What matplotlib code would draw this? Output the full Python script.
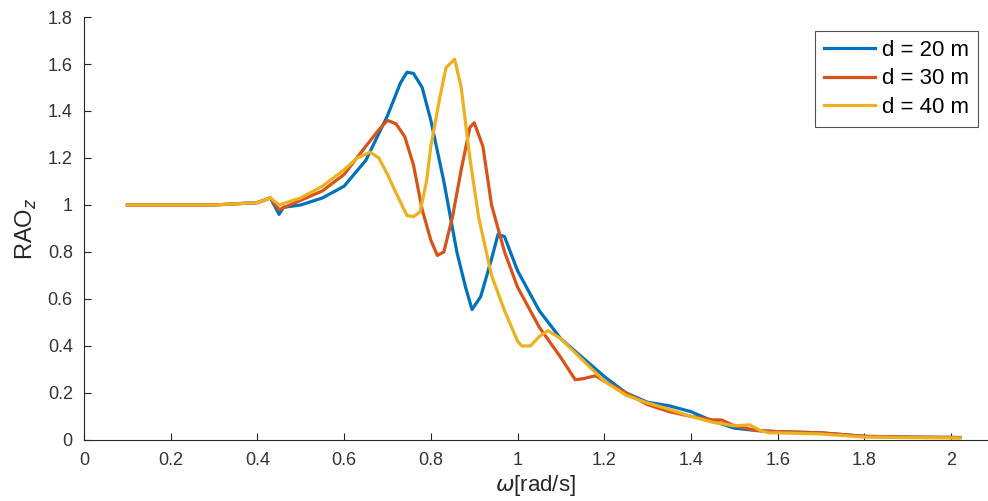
import matplotlib
matplotlib.use('Agg')
import matplotlib.pyplot as plt

# d = 20 m
w20 = [0.10, 0.20, 0.30, 0.40, 0.43, 0.45, 0.46, 0.50, 0.55, 0.60, 0.65, 0.70, 0.73, 0.745, 0.76,
       0.78, 0.80, 0.83, 0.86, 0.88, 0.895, 0.915, 0.94, 0.955, 0.97, 1.00, 1.05, 1.10, 1.15,
       1.20, 1.25, 1.30, 1.35, 1.40, 1.45, 1.50, 1.55, 1.60, 1.70, 1.80, 1.90, 2.02]
rao20 = [1.00, 1.00, 1.00, 1.01, 1.03, 0.96, 0.99, 1.00, 1.03, 1.08, 1.19, 1.38, 1.52, 1.565, 1.56,
         1.50, 1.36, 1.10, 0.80, 0.65, 0.555, 0.61, 0.77, 0.875, 0.865, 0.72, 0.55, 0.43, 0.35,
         0.27, 0.20, 0.16, 0.145, 0.12, 0.08, 0.05, 0.04, 0.035, 0.03, 0.015, 0.012, 0.01]

# d = 30 m
w30 = [0.10, 0.20, 0.30, 0.40, 0.43, 0.45, 0.50, 0.55, 0.60, 0.65, 0.68, 0.70, 0.72, 0.74,
       0.76, 0.78, 0.80, 0.815, 0.83, 0.85, 0.87, 0.89, 0.90, 0.92, 0.94, 0.97, 1.00, 1.05,
       1.10, 1.133, 1.15, 1.18, 1.20, 1.25, 1.30, 1.35, 1.40, 1.45, 1.47, 1.50, 1.55, 1.60,
       1.70, 1.80, 1.90, 2.02]
rao30 = [1.00, 1.00, 1.00, 1.01, 1.03, 0.98, 1.02, 1.06, 1.13, 1.25, 1.32, 1.36, 1.345, 1.29,
         1.17, 0.98, 0.85, 0.785, 0.80, 0.95, 1.15, 1.33, 1.35, 1.25, 1.00, 0.80, 0.65, 0.48,
         0.35, 0.256, 0.26, 0.273, 0.25, 0.20, 0.15, 0.12, 0.10, 0.085, 0.085, 0.06, 0.04, 0.035,
         0.03, 0.015, 0.012, 0.01]

# d = 40 m
w40 = [0.10, 0.20, 0.30, 0.40, 0.43, 0.45, 0.50, 0.55, 0.60, 0.63, 0.66, 0.68, 0.70, 0.72,
       0.745, 0.76, 0.775, 0.79, 0.80, 0.82, 0.835, 0.855, 0.87, 0.89, 0.91, 0.94, 0.97, 1.00,
       1.01, 1.03, 1.05, 1.07, 1.10, 1.15, 1.20, 1.25, 1.30, 1.35, 1.40, 1.45, 1.50, 1.535,
       1.56, 1.58, 1.60, 1.70, 1.80, 1.90, 2.02]
rao40 = [1.00, 1.00, 1.00, 1.01, 1.03, 1.00, 1.03, 1.08, 1.15, 1.20, 1.225, 1.20, 1.13, 1.05,
         0.955, 0.95, 0.97, 1.10, 1.25, 1.45, 1.585, 1.62, 1.50, 1.20, 0.95, 0.70, 0.55, 0.42,
         0.40, 0.40, 0.44, 0.465, 0.43, 0.34, 0.25, 0.19, 0.157, 0.13, 0.10, 0.075, 0.06, 0.064,
         0.04, 0.03, 0.03, 0.025, 0.012, 0.01, 0.008]

labels = ['d = 20 m', 'd = 30 m', 'd = 40 m']
colors = ['#0072BD', '#D95319', '#EDB120']

plt.rcParams['font.family'] = ['Liberation Sans', 'DejaVu Sans']
plt.rcParams['mathtext.fontset'] = 'dejavusans'

fig = plt.figure(figsize=(9.88, 5.01), dpi=100)
ax = fig.add_axes([0.085, 0.122, 0.915, 0.844])

for w, r, lab, c in zip([w20, w30, w40], [rao20, rao30, rao40], labels, colors):
    ax.plot(w, r, color=c, linewidth=2.3, label=lab)

ax.set_xlim(0, 2.085)
ax.set_ylim(0, 1.8)
ax.set_xticks([0, 0.2, 0.4, 0.6, 0.8, 1.0, 1.2, 1.4, 1.6, 1.8, 2.0])
ax.set_xticklabels(['0', '0.2', '0.4', '0.6', '0.8', '1', '1.2', '1.4', '1.6', '1.8', '2'])
ax.set_yticks([0, 0.2, 0.4, 0.6, 0.8, 1.0, 1.2, 1.4, 1.6, 1.8])
ax.set_yticklabels(['0', '0.2', '0.4', '0.6', '0.8', '1', '1.2', '1.4', '1.6', '1.8'])

ax.spines['top'].set_visible(False)
ax.spines['right'].set_visible(False)
for s in ['left', 'bottom']:
    ax.spines[s].set_color('#262626')
    ax.spines[s].set_linewidth(0.8)
ax.tick_params(direction='in', length=5, width=0.8, colors='#262626',
               labelsize=13, labelcolor='#333333')
ax.tick_params(axis='x', pad=9)
ax.tick_params(axis='y', pad=8)

ax.set_xlabel(r'$\omega$[rad/s]', fontsize=16, color='#262626')
ax.xaxis.set_label_coords(0.499, -0.078)
ax.set_ylabel(r'RAO$_z$', fontsize=17, color='#262626')
ax.yaxis.set_label_coords(-0.05, 0.5)

leg = ax.legend(loc='upper right', bbox_to_anchor=(0.9935, 0.978), fontsize=16,
                frameon=True, fancybox=False, handlelength=2.3, handletextpad=0.3,
                borderpad=0.4, labelspacing=0.35, borderaxespad=0.2)
leg.get_frame().set_edgecolor('#262626')
leg.get_frame().set_linewidth(0.8)

fig.savefig('out.png', dpi=100)
